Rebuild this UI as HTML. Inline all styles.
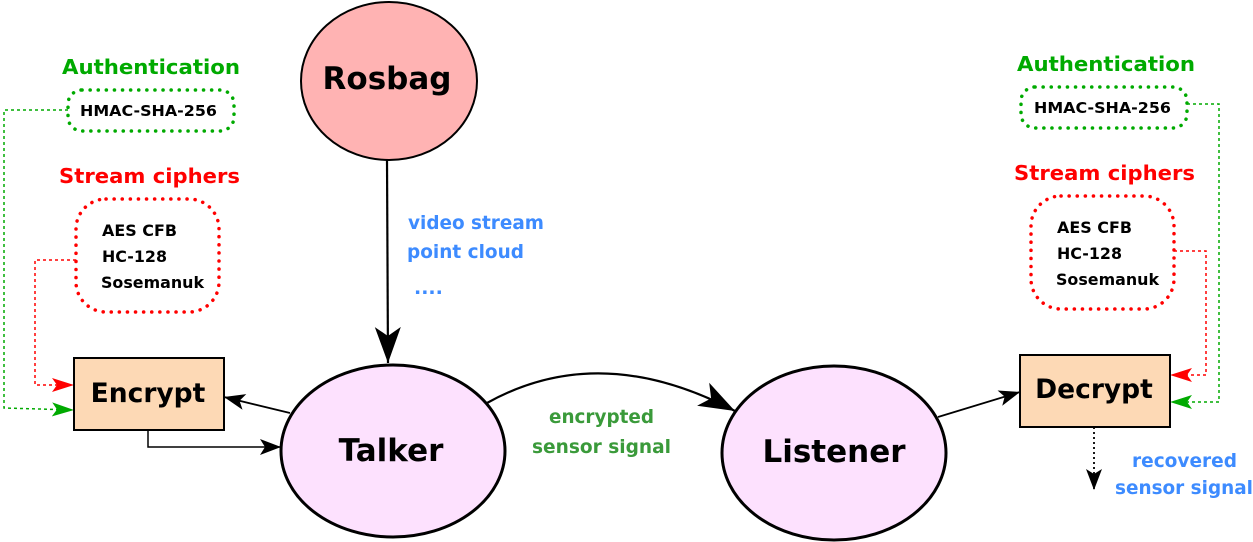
<!DOCTYPE html>
<html><head><meta charset="utf-8"><style>html,body{margin:0;padding:0;background:#fff}svg{display:block}text{font-family:"DejaVu Sans","Liberation Sans",sans-serif;font-weight:bold}</style></head>
<body>
<svg width="1253" height="542" viewBox="0 0 1253 542" xmlns="http://www.w3.org/2000/svg">
<defs>
<marker id="big" markerUnits="userSpaceOnUse" markerWidth="40" markerHeight="30" refX="0" refY="0" viewBox="-36 -15 40 30" orient="auto"><path d="M0,0 L-36,-13 L-27,0 L-36,13 Z" fill="#000"/></marker>
<marker id="sm" markerUnits="userSpaceOnUse" markerWidth="24" markerHeight="18" refX="0" refY="0" viewBox="-22 -9 24 18" orient="auto"><path d="M0,0 L-21,-8 L-16,0 L-21,8 Z" fill="#000"/></marker>
<marker id="red" markerUnits="userSpaceOnUse" markerWidth="24" markerHeight="16" refX="0" refY="0" viewBox="-22 -8 24 16" orient="auto"><path d="M0,0 L-22,-7 L-17,0 L-22,7 Z" fill="#f00"/></marker>
<marker id="grn" markerUnits="userSpaceOnUse" markerWidth="24" markerHeight="16" refX="0" refY="0" viewBox="-22 -8 24 16" orient="auto"><path d="M0,0 L-22,-7 L-17,0 L-22,7 Z" fill="#00aa00"/></marker>
</defs>

<path d="M68,110 L4,110 L4,408 L74,410" fill="none" stroke="#00aa00" stroke-width="1.5" stroke-dasharray="3,3" marker-end="url(#grn)"/>
<path d="M76,260 L35,260 L35,385 L74,385" fill="none" stroke="#f00" stroke-width="1.5" stroke-dasharray="3,3" marker-end="url(#red)"/>
<path d="M1174,251 L1206,251 L1206,375 L1170,375" fill="none" stroke="#f00" stroke-width="1.5" stroke-dasharray="3,3" marker-end="url(#red)"/>
<path d="M1187,104 L1219,104 L1219,402 L1170,402" fill="none" stroke="#00aa00" stroke-width="1.5" stroke-dasharray="3,3" marker-end="url(#grn)"/>

<path d="M387,160 L388,363" stroke="#000" stroke-width="2.2" fill="none" marker-end="url(#big)"/>
<path d="M487,403 Q600,340 735,411" stroke="#000" stroke-width="2.2" fill="none" marker-end="url(#big)"/>
<path d="M290,413 L224,397" stroke="#000" stroke-width="1.8" fill="none" marker-end="url(#sm)"/>
<path d="M148,430 L148,447 L281,447" stroke="#000" stroke-width="1.5" fill="none" marker-end="url(#sm)"/>
<path d="M938,417 L1020,392" stroke="#000" stroke-width="1.8" fill="none" marker-end="url(#sm)"/>
<path d="M1094,427 L1094,490" stroke="#000" stroke-width="1.8" stroke-dasharray="2,3" fill="none" marker-end="url(#sm)"/>

<ellipse cx="389" cy="81" rx="88" ry="79" fill="#ffb3b3" stroke="#000" stroke-width="2"/>
<text x="387" y="89" font-size="31" text-anchor="middle">Rosbag</text>
<ellipse cx="393" cy="451" rx="112" ry="86" fill="#fde1fe" stroke="#000" stroke-width="3"/>
<text x="391" y="461" font-size="31" text-anchor="middle">Talker</text>
<ellipse cx="834" cy="453" rx="112" ry="87" fill="#fde1fe" stroke="#000" stroke-width="3"/>
<text x="834" y="462" font-size="31" text-anchor="middle">Listener</text>
<rect x="74" y="358" width="150" height="72" fill="#fdd9b5" stroke="#000" stroke-width="2"/>
<text x="148" y="402" font-size="26.5" text-anchor="middle">Encrypt</text>
<rect x="1020" y="355" width="150" height="72" fill="#fdd9b5" stroke="#000" stroke-width="2"/>
<text x="1094" y="398" font-size="26.5" text-anchor="middle">Decrypt</text>

<rect x="68" y="90" width="166" height="41" rx="14" fill="none" stroke="#00aa00" stroke-width="3.5" stroke-dasharray="0.1,8" stroke-linecap="round"/>
<rect x="76" y="199" width="143" height="113" rx="30" fill="none" stroke="#f00" stroke-width="3.5" stroke-dasharray="0.1,8" stroke-linecap="round"/>
<rect x="1021" y="87" width="166" height="41" rx="14" fill="none" stroke="#00aa00" stroke-width="3.5" stroke-dasharray="0.1,8" stroke-linecap="round"/>
<rect x="1031" y="196" width="143" height="113" rx="30" fill="none" stroke="#f00" stroke-width="3.5" stroke-dasharray="0.1,8" stroke-linecap="round"/>

<text x="62" y="74" font-size="20" fill="#00aa00" textLength="178" lengthAdjust="spacingAndGlyphs">Authentication</text>
<text x="80" y="116" font-size="15" textLength="137" lengthAdjust="spacingAndGlyphs">HMAC-SHA-256</text>
<text x="59" y="183" font-size="20" fill="#f00" textLength="181" lengthAdjust="spacingAndGlyphs">Stream ciphers</text>
<text x="102" y="236" font-size="16" textLength="75" lengthAdjust="spacingAndGlyphs">AES CFB</text>
<text x="102" y="262" font-size="16" textLength="65" lengthAdjust="spacingAndGlyphs">HC-128</text>
<text x="101" y="288" font-size="16" textLength="103" lengthAdjust="spacingAndGlyphs">Sosemanuk</text>

<text x="1017" y="71" font-size="20" fill="#00aa00" textLength="178" lengthAdjust="spacingAndGlyphs">Authentication</text>
<text x="1034" y="113" font-size="15" textLength="137" lengthAdjust="spacingAndGlyphs">HMAC-SHA-256</text>
<text x="1014" y="180" font-size="20" fill="#f00" textLength="181" lengthAdjust="spacingAndGlyphs">Stream ciphers</text>
<text x="1057" y="233" font-size="16" textLength="75" lengthAdjust="spacingAndGlyphs">AES CFB</text>
<text x="1057" y="259" font-size="16" textLength="65" lengthAdjust="spacingAndGlyphs">HC-128</text>
<text x="1056" y="285" font-size="16" textLength="103" lengthAdjust="spacingAndGlyphs">Sosemanuk</text>

<text x="408" y="229" font-size="19" fill="#3d8bff" textLength="136" lengthAdjust="spacingAndGlyphs">video stream</text>
<text x="407" y="258" font-size="19" fill="#3d8bff" textLength="117" lengthAdjust="spacingAndGlyphs">point cloud</text>
<text x="414" y="294" font-size="19" fill="#3d8bff">....</text>

<text x="549" y="423" font-size="19" fill="#3a9a3a" textLength="105" lengthAdjust="spacingAndGlyphs">encrypted</text>
<text x="532" y="453" font-size="19" fill="#3a9a3a" textLength="139" lengthAdjust="spacingAndGlyphs">sensor signal</text>

<text x="1132" y="467" font-size="19" fill="#3d8bff" textLength="105" lengthAdjust="spacingAndGlyphs">recovered</text>
<text x="1115" y="494" font-size="19" fill="#3d8bff" textLength="138" lengthAdjust="spacingAndGlyphs">sensor signal</text>
</svg>
</body></html>
